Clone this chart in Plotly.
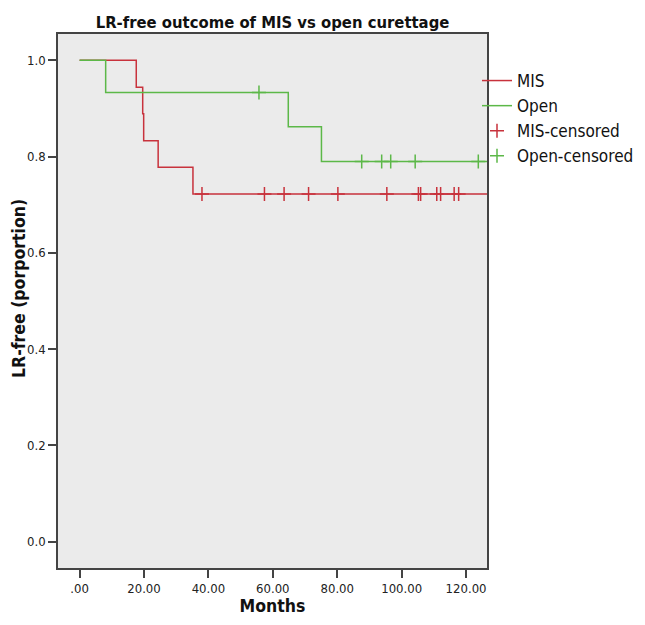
import plotly.graph_objects as go

# MIS survival step data (time in months, proportion)
mis_t = [0, 17.6, 19.6, 19.9, 24.4, 35.2, 126.5]
mis_s = [1.0, 0.944, 0.889, 0.833, 0.778, 0.722, 0.722]
mis_cens_t = [38.0, 57.4, 63.5, 71.1, 80.2, 95.4, 105.2, 105.9, 110.9, 112.1, 116.3, 117.7]
mis_cens_s = [0.722] * len(mis_cens_t)

# Open survival step data
open_t = [0, 8.1, 64.8, 75.1, 126.5]
open_s = [1.0, 0.933, 0.862, 0.790, 0.790]
open_cens_t = [55.7, 87.6, 93.8, 96.6, 104.2, 123.8]
open_cens_s = [0.933, 0.790, 0.790, 0.790, 0.790, 0.790]

x_tickvals = [0, 20, 40, 60, 80, 100, 120]
x_ticktext = [".00", "20.00", "40.00", "60.00", "80.00", "100.00", "120.00"]
y_tickvals = [0.0, 0.2, 0.4, 0.6, 0.8, 1.0]

RED = "#c8323c"
GREEN = "#5cb848"
FONT = "DejaVu Sans Condensed, Liberation Sans, Arial, sans-serif"

# page body has an 8px margin; figure is sized to the visible area
W, H = 637, 617
L, R, T, B = 50, 158, 26, 57
PW, PH = W - L - R, H - T - B

fig = go.Figure()
fig.add_trace(go.Scatter(x=mis_t, y=mis_s, mode="lines", line_shape="hv",
                         line=dict(color=RED, width=1.5), name="MIS"))
fig.add_trace(go.Scatter(x=open_t, y=open_s, mode="lines", line_shape="hv",
                         line=dict(color=GREEN, width=1.5), name="Open"))
fig.add_trace(go.Scatter(x=mis_cens_t, y=mis_cens_s, mode="markers",
                         marker=dict(symbol="cross-thin", size=10,
                                     line=dict(color=RED, width=1.5)),
                         name="MIS-censored"))
fig.add_trace(go.Scatter(x=open_cens_t, y=open_cens_s, mode="markers",
                         marker=dict(symbol="cross-thin", size=10,
                                     line=dict(color=GREEN, width=1.5)),
                         name="Open-censored"))

fig.update_layout(
    width=W, height=H,
    margin=dict(l=L, r=R, t=T, b=B, autoexpand=False),
    paper_bgcolor="white",
    plot_bgcolor="#ebebeb",
    font=dict(family=FONT, size=12, color="#222"),
    title=dict(text="<b>LR-free outcome of MIS vs open curettage</b>",
               x=(L + PW / 2) / W, xanchor="center",
               y=1 - 14 / H, yanchor="middle",
               font=dict(family=FONT, size=16.5, color="#111")),
    showlegend=True,
    legend=dict(x=1 - 10 / PW, xanchor="left", y=1 - 29 / PH, yanchor="top",
                bgcolor="rgba(0,0,0,0)", font=dict(family=FONT, size=17, color="#111"),
                tracegroupgap=0, itemwidth=30),
    xaxis=dict(range=[-6.7, 126.5], tickvals=x_tickvals, ticktext=x_ticktext,
               showgrid=False, zeroline=False, automargin=False,
               showline=True, linecolor="#444", linewidth=1.5, mirror=True,
               ticks="outside", ticklen=8, tickcolor="#444", tickwidth=1.5,
               tickfont=dict(family=FONT, size=13, color="#222"),
               title=dict(text="<b>Months</b>", font=dict(family=FONT, size=17.5, color="#111"),
                          standoff=4)),
    yaxis=dict(range=[-0.055, 1.0547], tickvals=y_tickvals, tickformat=".1f",
               showgrid=False, zeroline=False, automargin=False,
               showline=True, linecolor="#444", linewidth=1.5, mirror=True,
               ticks="outside", ticklen=8, tickcolor="#444", tickwidth=1.5,
               ticklabelstandoff=0,
               tickfont=dict(family=FONT, size=13, color="#222")),
    annotations=[dict(text="<b>LR-free (porportion)</b>", textangle=-90,
                      xref="paper", yref="paper",
                      x=(11 - L) / PW, y=1 - (281 - T) / PH,
                      xanchor="center", yanchor="middle", showarrow=False,
                      font=dict(family=FONT, size=17.5, color="#111"))],
)

fig.write_html("out.html")
